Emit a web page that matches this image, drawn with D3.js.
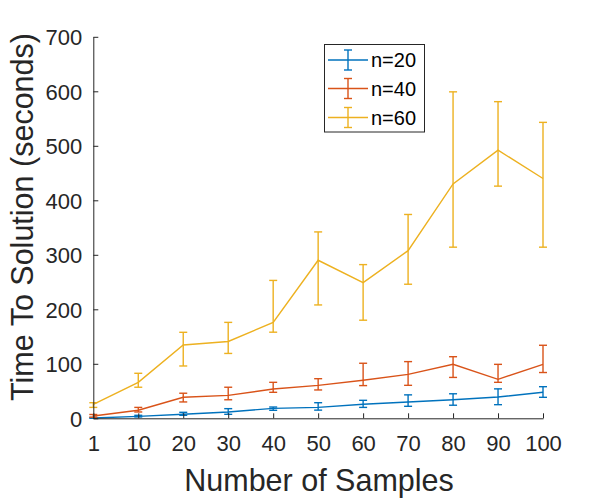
<!DOCTYPE html>
<html>
<head>
<meta charset="utf-8">
<script src="https://cdn.jsdelivr.net/npm/d3@7"></script>
<style>
  html, body { margin: 0; padding: 0; background: #fff; }
  svg { display: block; font-family: "Liberation Sans", Arial, Helvetica, sans-serif; }
</style>
</head>
<body>
<svg id="chart" width="600" height="500"></svg>
<script>
// ---- data ----
const xLabels = ["1", "10", "20", "30", "40", "50", "60", "70", "80", "90", "100"];
const yTicks = [0, 100, 200, 300, 400, 500, 600, 700];
const seriesNames = ["n=20", "n=40", "n=60"];

const n20Mean = [0.5, 3.6, 7.3, 11.6, 18.3, 20, 25.7, 30, 34, 39, 47.7];
const n20Low  = [0, 2.5, 5.5, 7.3, 14.7, 15, 20, 22, 24, 25, 38.5];
const n20High = [1.5, 5.5, 11, 17.7, 20.7, 28.6, 33, 43, 45, 54, 58];

const n40Mean = [4.2, 14.7, 38.5, 42, 53.8, 60.5, 69.7, 80.7, 99, 71.5, 99];
const n40Low  = [2, 11.6, 30, 34, 47.7, 52, 60, 60.5, 75, 66, 84];
const n40High = [7, 20, 46, 57, 66, 72.7, 101, 104, 113, 99, 134];

const n60Mean = [25.7, 66, 134.5, 141, 176, 290, 249, 307.6, 430, 492, 440];
const n60Low  = [20, 57, 96, 119, 158, 208, 180, 246, 314, 426, 314];
const n60High = [28.6, 82.6, 157.8, 176, 253, 342, 282, 374, 599, 581, 543];

const colors = ["#0072BD", "#D95319", "#EDB120"];

// ---- layout ----
const svg = d3.select("#chart");
const pLeft = 93.3, pRight = 543, pTop = 36.8, pBottom = 418.3;

const x = d3.scaleLinear().domain([0, xLabels.length - 1]).range([pLeft, pRight]);
const y = d3.scaleLinear().domain([0, 700]).range([pBottom, pTop]);

const series = [
  { name: seriesNames[0], mean: n20Mean, lo: n20Low, hi: n20High, color: colors[0] },
  { name: seriesNames[1], mean: n40Mean, lo: n40Low, hi: n40High, color: colors[1] },
  { name: seriesNames[2], mean: n60Mean, lo: n60Low, hi: n60High, color: colors[2] }
];

const cap = 4;
const sw = 1.4;
const line = d3.line().x((d, i) => x(i)).y(d => y(d));

series.forEach(s => {
  const g = svg.append("g");
  g.append("path")
    .attr("d", line(s.mean))
    .attr("fill", "none")
    .attr("stroke", s.color)
    .attr("stroke-width", sw);
  s.mean.forEach((m, i) => {
    const cx = x(i), y1 = y(s.lo[i]), y2 = y(s.hi[i]);
    g.append("line").attr("x1", cx).attr("x2", cx).attr("y1", y1).attr("y2", y2)
      .attr("stroke", s.color).attr("stroke-width", sw);
    g.append("line").attr("x1", cx - cap).attr("x2", cx + cap).attr("y1", y1).attr("y2", y1)
      .attr("stroke", s.color).attr("stroke-width", sw);
    g.append("line").attr("x1", cx - cap).attr("x2", cx + cap).attr("y1", y2).attr("y2", y2)
      .attr("stroke", s.color).attr("stroke-width", sw);
  });
});

// ---- axes ----
const xAxis = d3.axisBottom(x)
  .tickValues(d3.range(xLabels.length))
  .tickFormat(i => xLabels[i])
  .tickSizeInner(-5).tickSizeOuter(0).tickPadding(17);
const gx = svg.append("g").attr("transform", `translate(0,${pBottom})`).call(xAxis);

const yAxis = d3.axisLeft(y)
  .tickValues(yTicks)
  .tickSizeInner(-5).tickSizeOuter(0).tickPadding(11);
const gy = svg.append("g").attr("transform", `translate(${pLeft},0)`).call(yAxis);

[gx, gy].forEach(g => {
  g.select(".domain").attr("stroke", "#262626").attr("stroke-width", 1);
  g.selectAll(".tick line").attr("stroke", "#262626").attr("stroke-width", 1);
  g.selectAll(".tick text").attr("fill", "#262626")
    .style("font-size", "22px")
    .style("font-family", "'Liberation Sans', Arial, sans-serif");
});
gy.selectAll(".tick text").attr("dy", "0.35em");

// ---- axis titles ----
svg.append("text")
  .attr("x", 319).attr("y", 491)
  .attr("text-anchor", "middle")
  .attr("fill", "#262626")
  .style("font-size", "30.5px")
  .text("Number of Samples");

svg.append("text")
  .attr("transform", "translate(33,217) rotate(-90)")
  .attr("text-anchor", "middle")
  .attr("fill", "#262626")
  .style("font-size", "30.5px")
  .text("Time To Solution (seconds)");

// ---- legend ----
const lg = svg.append("g");
lg.append("rect")
  .attr("x", 324.5).attr("y", 44.5).attr("width", 100).attr("height", 87.5)
  .attr("fill", "#fff").attr("stroke", "#262626").attr("stroke-width", 1);
const rowY = [60, 88.5, 117.5];
series.forEach((s, i) => {
  const ry = rowY[i];
  lg.append("line").attr("x1", 328).attr("x2", 368).attr("y1", ry).attr("y2", ry)
    .attr("stroke", s.color).attr("stroke-width", sw);
  lg.append("line").attr("x1", 348).attr("x2", 348).attr("y1", ry - 10).attr("y2", ry + 10)
    .attr("stroke", s.color).attr("stroke-width", sw);
  lg.append("line").attr("x1", 344).attr("x2", 352).attr("y1", ry - 10).attr("y2", ry - 10)
    .attr("stroke", s.color).attr("stroke-width", sw);
  lg.append("line").attr("x1", 344).attr("x2", 352).attr("y1", ry + 10).attr("y2", ry + 10)
    .attr("stroke", s.color).attr("stroke-width", sw);
  lg.append("text").attr("x", 371).attr("y", ry + 7)
    .attr("fill", "#000")
    .style("font-size", "20px")
    .text(s.name);
});
</script>
</body>
</html>
